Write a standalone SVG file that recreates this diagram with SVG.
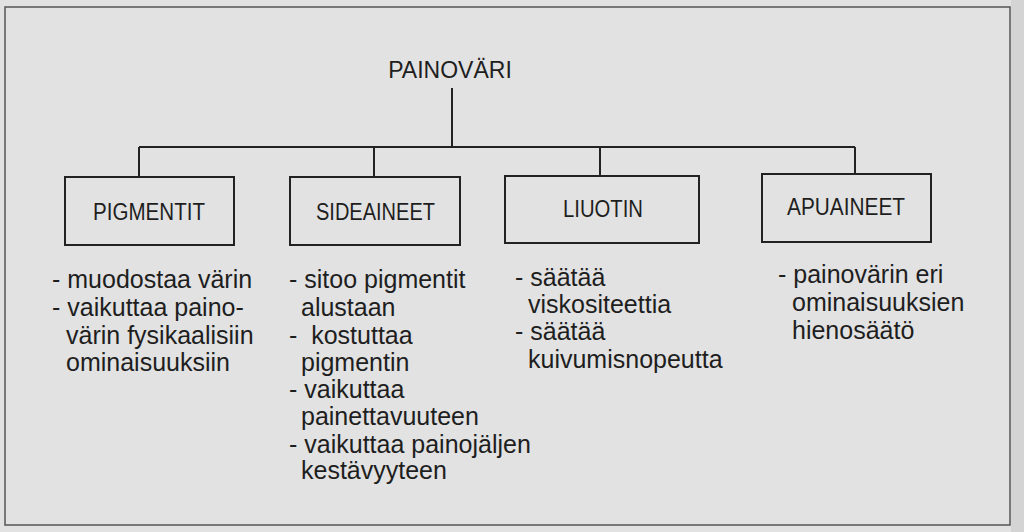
<svg xmlns="http://www.w3.org/2000/svg" width="1024" height="532" viewBox="0 0 1024 532">
<style>
.t{font-family:"Liberation Sans",Arial,sans-serif;fill:#1e1e1e;}
.lbl{font-size:23px;}
.root{font-size:23px;}
.li{font-size:25px;}
.box{fill:none;stroke:#222;stroke-width:2;}
.con{fill:none;stroke:#222;stroke-width:2;}
</style>
<rect x="0" y="0" width="1024" height="532" fill="#e2e2e2"/>
<rect x="1011" y="0" width="13" height="532" fill="#d4d4d4"/>
<rect x="5" y="7" width="1005" height="518" fill="none" stroke="#555" stroke-width="1.5"/>
<g id="connectors">
<path class="con" d="M452 88V147M139 147H855M139 147V177M374 147V177M600 147V176M855 147V174"/>
</g>
<g id="root"><text class="t root" x="450" y="78" text-anchor="middle">PAINOVÄRI</text></g>
<g id="pigmentit">
<rect class="box" x="65" y="177" width="169" height="68"/>
<text class="t lbl" x="93" y="220" textLength="112" lengthAdjust="spacingAndGlyphs">PIGMENTIT</text>
<text class="t li" x="52" y="288">- muodostaa värin</text>
<text class="t li" x="52" y="316">- vaikuttaa paino-</text>
<text class="t li" x="66" y="344">värin fysikaalisiin</text>
<text class="t li" x="66" y="371">ominaisuuksiin</text>
</g>
<g id="sideaineet">
<rect class="box" x="290" y="177" width="170" height="68"/>
<text class="t lbl" x="316" y="220" textLength="119" lengthAdjust="spacingAndGlyphs">SIDEAINEET</text>
<text class="t li" x="289" y="288">- sitoo pigmentit</text>
<text class="t li" x="301" y="316">alustaan</text>
<text class="t li" x="289" y="344" xml:space="preserve">-  kostuttaa</text>
<text class="t li" x="301" y="371">pigmentin</text>
<text class="t li" x="289" y="398">- vaikuttaa</text>
<text class="t li" x="301" y="425">painettavuuteen</text>
<text class="t li" x="289" y="453">- vaikuttaa painojäljen</text>
<text class="t li" x="301" y="479">kestävyyteen</text>
</g>
<g id="liuotin">
<rect class="box" x="505" y="176" width="194" height="67"/>
<text class="t lbl" x="563" y="217" textLength="80" lengthAdjust="spacingAndGlyphs">LIUOTIN</text>
<text class="t li" x="515" y="286">- säätää</text>
<text class="t li" x="528" y="313">viskositeettia</text>
<text class="t li" x="515" y="340">- säätää</text>
<text class="t li" x="528" y="368">kuivumisnopeutta</text>
</g>
<g id="apuaineet">
<rect class="box" x="762" y="174" width="169" height="68"/>
<text class="t lbl" x="787" y="215" textLength="118" lengthAdjust="spacingAndGlyphs">APUAINEET</text>
<text class="t li" x="778" y="283">- painovärin eri</text>
<text class="t li" x="792" y="311">ominaisuuksien</text>
<text class="t li" x="792" y="339">hienosäätö</text>
</g>
</svg>
